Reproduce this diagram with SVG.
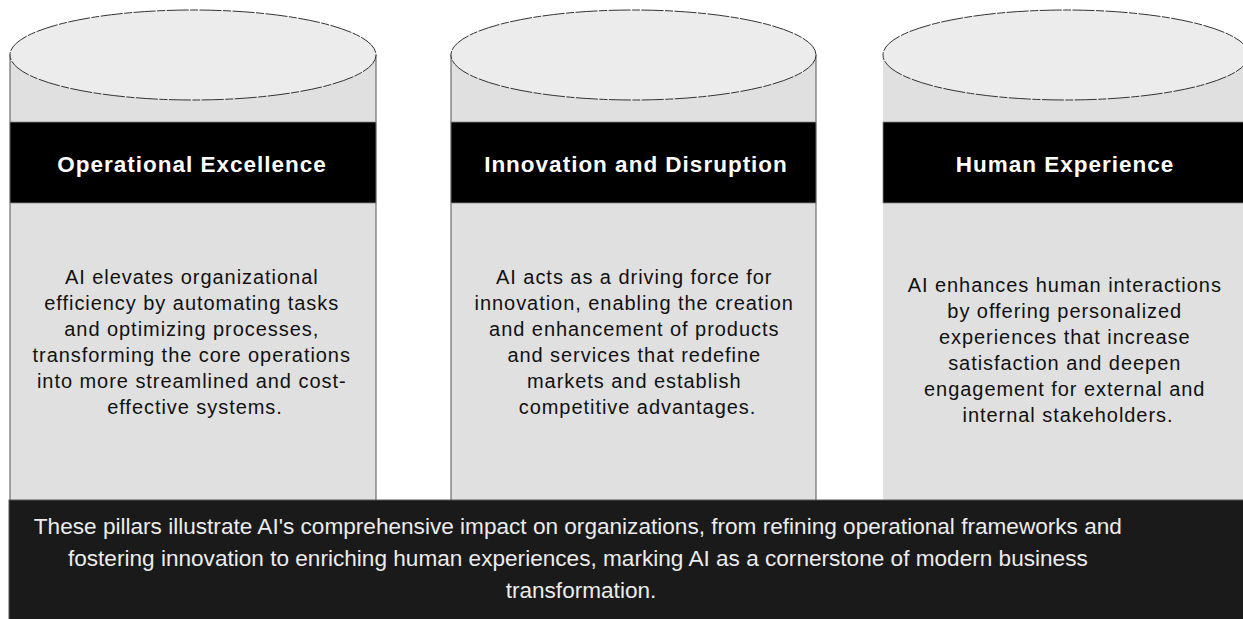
<svg xmlns="http://www.w3.org/2000/svg" width="1243" height="619" viewBox="0 0 1243 619">
  <style>
    .body { fill: #e0e0e0; stroke: #555; stroke-width: 1; }
    .body-plain { fill: #e0e0e0; stroke: none; }
    .lid { fill: #ececec; stroke: #333; stroke-width: 1; stroke-dasharray: 22 1.5 8 1.5; }
    .band { fill: #000; stroke: #888; stroke-width: 0.8; }
    .title { font-family: "Liberation Sans", Arial, sans-serif; font-weight: bold; font-size: 22.5px; letter-spacing: 1px; fill: #fff; text-anchor: middle; }
    .desc { font-family: "Liberation Sans", Arial, sans-serif; font-size: 20px; letter-spacing: 0.95px; fill: #111; text-anchor: middle; }
    .banner { fill: #1a1a1a; stroke: #555; stroke-width: 1; }
    .note { font-family: "Liberation Sans", Arial, sans-serif; font-size: 22.6px; fill: #ececec; text-anchor: middle; }
  </style>
  <rect width="1243" height="619" fill="#fff"/>

  <!-- pillar 1 -->
  <g id="pillar-operational">
    <rect class="body" x="10" y="55" width="366" height="460"/>
    <ellipse class="lid" cx="193" cy="55" rx="183" ry="45"/>
    <rect class="band" x="10" y="122" width="366" height="81"/>
    <text class="title" x="192" y="171.5">Operational Excellence</text>
    <text class="desc" x="195" y="284">
      <tspan x="195" y="284">AI elevates organizational</tspan>
      <tspan x="195" y="310">efficiency by automating tasks</tspan>
      <tspan x="195" y="336">and optimizing processes,</tspan>
      <tspan x="195" y="362">transforming the core operations</tspan>
      <tspan x="195" y="388">into more streamlined and cost-</tspan>
      <tspan x="195" y="414">effective systems.</tspan>
    </text>
  </g>

  <!-- pillar 2 -->
  <g id="pillar-innovation">
    <rect class="body" x="451" y="55" width="365" height="460"/>
    <ellipse class="lid" cx="633.5" cy="55" rx="182.5" ry="45"/>
    <rect class="band" x="451" y="122" width="365" height="81"/>
    <text class="title" x="636" y="171.5">Innovation and Disruption</text>
    <text class="desc" x="637.5" y="284">
      <tspan x="637.5" y="284">AI acts as a driving force for</tspan>
      <tspan x="637.5" y="310">innovation, enabling the creation</tspan>
      <tspan x="637.5" y="336">and enhancement of products</tspan>
      <tspan x="637.5" y="362">and services that redefine</tspan>
      <tspan x="637.5" y="388">markets and establish</tspan>
      <tspan x="637.5" y="414">competitive advantages.</tspan>
    </text>
  </g>

  <!-- pillar 3 (runs past the right edge) -->
  <g id="pillar-human">
    <rect class="body-plain" x="883" y="55" width="366" height="460"/>
    <ellipse class="lid" cx="1066" cy="55" rx="183" ry="45"/>
    <rect class="band" x="883" y="122" width="366" height="81"/>
    <text class="title" x="1065" y="171.5">Human Experience</text>
    <text class="desc" x="1068" y="292">
      <tspan x="1068" y="292">AI enhances human interactions</tspan>
      <tspan x="1068" y="318">by offering personalized</tspan>
      <tspan x="1068" y="344">experiences that increase</tspan>
      <tspan x="1068" y="370">satisfaction and deepen</tspan>
      <tspan x="1068" y="396">engagement for external and</tspan>
      <tspan x="1068" y="422">internal stakeholders.</tspan>
    </text>
  </g>

  <!-- summary banner across the base -->
  <g id="summary">
    <rect class="banner" x="9" y="500" width="1250" height="130"/>
    <text class="note" x="581" y="534">
      <tspan x="581" y="534">These pillars illustrate AI's comprehensive impact on organizations, from refining operational frameworks and</tspan>
      <tspan x="581" y="566">fostering innovation to enriching human experiences, marking AI as a cornerstone of modern business</tspan>
      <tspan x="581" y="598">transformation.</tspan>
    </text>
  </g>

  <g id="connectors"/>
</svg>
